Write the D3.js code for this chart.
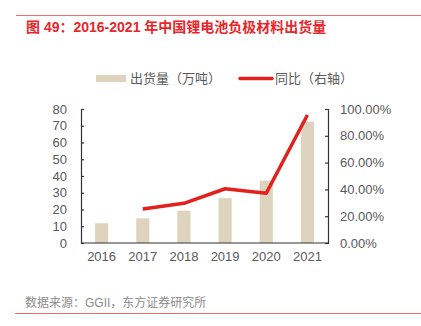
<!DOCTYPE html>
<html>
<head>
<meta charset="utf-8">
<script src="https://cdn.jsdelivr.net/npm/d3@7"></script>
<style>
  body { margin: 0; background: #fff; }
  text { font-family: "Liberation Sans", "Noto Sans CJK SC", sans-serif; }
</style>
</head>
<body>
<svg id="svg" width="421" height="326"></svg>
<script>
const years = ["2016", "2017", "2018", "2019", "2020", "2021"];
const shipment = [11.8, 14.7, 19.3, 26.8, 37.2, 72.4];
const yoyYears = ["2017", "2018", "2019", "2020", "2021"];
const yoy = [0.254, 0.296, 0.405, 0.371, 0.955];
const leftTicks = [0, 10, 20, 30, 40, 50, 60, 70, 80];
const rightTicks = [0, 0.2, 0.4, 0.6, 0.8, 1.0];

const svg = d3.select("#svg");
const mixed = "'Liberation Sans', 'Noto Sans CJK SC', sans-serif";

const plotLeft = 81, plotRight = 328, plotTop = 109, plotBottom = 243;

const x = d3.scaleBand().domain(years).range([plotLeft, plotRight]).paddingInner(0.68).paddingOuter(0.34);
const yL = d3.scaleLinear().domain([0, 80]).range([plotBottom, plotTop]);
const yR = d3.scaleLinear().domain([0, 1]).range([plotBottom, plotTop]);

// top rule and title
svg.append("line").attr("x1", 16).attr("x2", 421).attr("y1", 15.5).attr("y2", 15.5)
  .attr("stroke", "#f06b6b").attr("stroke-width", 1);
svg.append("text").attr("x", 26).attr("y", 32)
  .style("font-family", mixed).style("font-weight", "bold").style("font-size", "14px")
  .attr("fill", "#e8262b").text("图 49：2016-2021 年中国锂电池负极材料出货量");

// legend
svg.append("rect").attr("x", 96).attr("y", 75).attr("width", 30).attr("height", 7).attr("fill", "#ded4bd");
svg.append("text").attr("x", 130).attr("y", 83).style("font-family", mixed).style("font-size", "13px")
  .attr("fill", "#595959").text("出货量（万吨）");
svg.append("line").attr("x1", 240).attr("x2", 272).attr("y1", 78.5).attr("y2", 78.5)
  .attr("stroke", "#e3201b").attr("stroke-width", 3.5).attr("stroke-linecap", "round");
svg.append("text").attr("x", 275).attr("y", 83).style("font-family", mixed).style("font-size", "13px")
  .attr("fill", "#595959").text("同比（右轴）");

// bars
svg.selectAll("rect.bar").data(shipment).enter().append("rect").attr("class", "bar")
  .attr("x", (d, i) => x(years[i]))
  .attr("width", x.bandwidth())
  .attr("y", d => yL(d))
  .attr("height", d => plotBottom - yL(d))
  .attr("fill", "#ded4bd");

// axes
const axL = svg.append("g").attr("transform", `translate(${plotLeft},0)`)
  .call(d3.axisRight(yL).tickValues(leftTicks).tickSize(3).tickFormat(""));
const axR = svg.append("g").attr("transform", `translate(${plotRight},0)`)
  .call(d3.axisLeft(yR).tickValues(rightTicks).tickSize(3).tickFormat(""));
const axB = svg.append("g").attr("transform", `translate(0,${plotBottom})`)
  .call(d3.axisBottom(x).tickSize(0).tickPadding(9));
[axL, axR, axB].forEach(g => {
  g.selectAll("path,line").attr("stroke", "#333").attr("stroke-width", 1.2);
});
axB.select(".domain").attr("d", `M${plotLeft},0H${plotRight}`);
axB.selectAll("text").attr("fill", "#595959").style("font-size", "13px")
  .style("font-family", "'Liberation Sans', sans-serif");

svg.selectAll("text.yl").data(leftTicks).enter().append("text").attr("class", "yl")
  .attr("x", 67).attr("y", d => yL(d) + 4.5).attr("text-anchor", "end")
  .attr("fill", "#595959").style("font-size", "13px").text(d => d);
svg.selectAll("text.yr").data(rightTicks).enter().append("text").attr("class", "yr")
  .attr("x", 340).attr("y", d => yR(d) + 4.5)
  .attr("fill", "#595959").style("font-size", "13px").text(d => (d * 100).toFixed(2) + "%");

// yoy line
const line = d3.line().x((d, i) => x(yoyYears[i]) + x.bandwidth() / 2).y(d => yR(d));
svg.append("path").datum(yoy).attr("d", line).attr("fill", "none")
  .attr("stroke", "#e3201b").attr("stroke-width", 3.5).attr("stroke-linejoin", "round");

// source and bottom rule
svg.append("text").attr("x", 25).attr("y", 307).style("font-family", mixed).style("font-size", "12px")
  .attr("fill", "#8c8c8c").text("数据来源：GGII，东方证券研究所");
svg.append("line").attr("x1", 15).attr("x2", 421).attr("y1", 313.5).attr("y2", 313.5)
  .attr("stroke", "#f06b6b").attr("stroke-width", 1.2);
</script>
</body>
</html>
